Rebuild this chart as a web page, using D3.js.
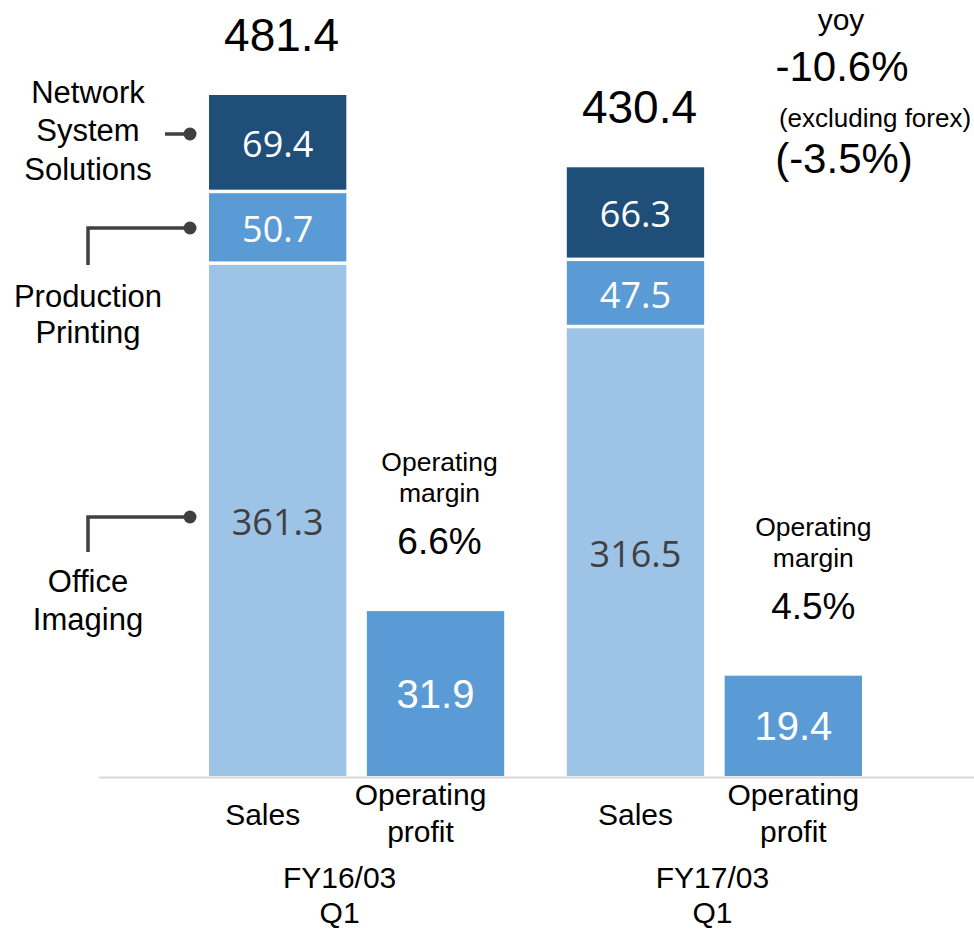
<!DOCTYPE html>
<html>
<head>
<meta charset="utf-8">
<script src="https://cdn.jsdelivr.net/npm/d3@7"></script>
<style>
  html, body { margin: 0; padding: 0; background: #fff; }
  svg { display: block; font-family: "Liberation Sans", Arial, sans-serif; }
</style>
</head>
<body>
<svg id="chart" width="974" height="931"></svg>
<script>
// values (billion yen)
const periods = ["FY16/03 Q1", "FY17/03 Q1"];
const periodLines = [["FY16/03", "Q1"], ["FY17/03", "Q1"]];
const barKinds = ["Sales", "Operating profit"];
const barKindLines = [["Sales"], ["Operating", "profit"]];

const segments = ["Office Imaging", "Production Printing", "Network System Solutions"];
const officeImaging = [361.3, 316.5];
const productionPrinting = [50.7, 47.5];
const networkSystemSolutions = [69.4, 66.3];
const salesTotal = [481.4, 430.4];
const operatingProfit = [31.9, 19.4];
const operatingMargin = ["6.6%", "4.5%"];
const yoyNotes = ["yoy", "-10.6%", "(excluding forex)", "(-3.5%)"];

const segColors = ["#9DC3E6", "#5B9BD5", "#1F4E79"];
const segText = ["#404040", "#ffffff", "#ffffff"];
const opColor = "#5B9BD5";

const width = 974, height = 931;
const baseY = 776;

const svg = d3.select("#chart");

const x0 = d3.scaleBand()
  .domain(periods)
  .range([209, 862])
  .paddingInner(0.175);

const x1 = d3.scaleBand()
  .domain(barKinds)
  .range([0, x0.bandwidth()])
  .paddingInner(0.13);

const ySales = d3.scaleLinear().domain([0, 500]).range([baseY, baseY - 707.3]);
const yOp = d3.scaleLinear().domain([0, 40]).range([baseY, baseY - 206.8]);

// stacked sales bars
const salesRows = periods.map((p, i) => ({
  period: p,
  [segments[0]]: officeImaging[i],
  [segments[1]]: productionPrinting[i],
  [segments[2]]: networkSystemSolutions[i]
}));
const stack = d3.stack().keys(segments)(salesRows);

const gap = 3.5;
stack.forEach((layer, li) => {
  const g = svg.append("g").attr("class", "seg-" + li);
  g.selectAll("rect")
    .data(layer)
    .join("rect")
    .attr("x", d => x0(d.data.period) + x1("Sales"))
    .attr("y", d => ySales(d[1]))
    .attr("width", x1.bandwidth())
    .attr("height", d => ySales(d[0]) - ySales(d[1]) - (li > 0 ? gap : 0))
    .attr("fill", segColors[li]);

  g.selectAll("text")
    .data(layer)
    .join("text")
    .attr("x", d => x0(d.data.period) + x1("Sales") + x1.bandwidth() / 2)
    .attr("y", d => (ySales(d[0]) - (li > 0 ? gap : 0) + ySales(d[1])) / 2 + 2)
    .attr("dy", "0.36em")
    .attr("text-anchor", "middle")
    .attr("fill", segText[li])
    .style("font-family", "'Open Sans', sans-serif")
    .style("font-size", "36px")
    .text(d => (d[1] - d[0]).toFixed(1));
});

// sales totals
svg.append("g").selectAll("text")
  .data(salesTotal)
  .join("text")
  .attr("x", (d, i) => x0(periods[i]) + x1("Sales") + x1.bandwidth() / 2 + 4)
  .attr("y", d => ySales(d) - 44)
  .attr("text-anchor", "middle")
  .style("font-size", "46px")
  .text(d => d.toFixed(1));

// operating profit bars
const opG = svg.append("g");
opG.selectAll("rect")
  .data(operatingProfit)
  .join("rect")
  .attr("x", (d, i) => x0(periods[i]) + x1("Operating profit"))
  .attr("y", d => yOp(d))
  .attr("width", x1.bandwidth())
  .attr("height", d => baseY - yOp(d))
  .attr("fill", opColor);

opG.selectAll("text")
  .data(operatingProfit)
  .join("text")
  .attr("x", (d, i) => x0(periods[i]) + x1("Operating profit") + x1.bandwidth() / 2)
  .attr("y", d => (yOp(d) + baseY) / 2)
  .attr("dy", "0.36em")
  .attr("text-anchor", "middle")
  .attr("fill", "#fff")
  .style("font-size", "40px")
  .text(d => d.toFixed(1));

// operating margin notes above op bars
const marginDx = [4, 20];
operatingMargin.forEach((m, i) => {
  const cx = x0(periods[i]) + x1("Operating profit") + x1.bandwidth() / 2 + marginDx[i];
  const top = yOp(operatingProfit[i]);
  const t = svg.append("text")
    .attr("text-anchor", "middle")
    .style("font-size", "26.5px");
  t.append("tspan").attr("x", cx).attr("y", top - 140).text("Operating");
  t.append("tspan").attr("x", cx).attr("y", top - 109).text("margin");
  svg.append("text")
    .attr("x", cx)
    .attr("y", top - 57)
    .attr("text-anchor", "middle")
    .style("font-size", "37px")
    .text(m);
});

// baseline
svg.append("line")
  .attr("x1", 99).attr("x2", width)
  .attr("y1", baseY + 1.5).attr("y2", baseY + 1.5)
  .attr("stroke", "#D9D9D9")
  .attr("stroke-width", 2);

// category labels
const labelDx = [-15, 0];
periods.forEach((p, i) => {
  barKinds.forEach((k, j) => {
    const cx = x0(p) + x1(k) + x1.bandwidth() / 2 + labelDx[i];
    const lines = barKindLines[j];
    const t = svg.append("text").attr("text-anchor", "middle").style("font-size", "30px");
    if (lines.length === 1) {
      t.append("tspan").attr("x", cx).attr("y", 825).text(lines[0]);
    } else {
      t.append("tspan").attr("x", cx).attr("y", 805).text(lines[0]);
      t.append("tspan").attr("x", cx).attr("y", 842).text(lines[1]);
    }
  });
  const gx = x0(p) + x0.bandwidth() / 2 + labelDx[i] - 2;
  const t = svg.append("text").attr("text-anchor", "middle").style("font-size", "30px");
  t.append("tspan").attr("x", gx).attr("y", 888).text(periodLines[i][0]);
  t.append("tspan").attr("x", gx).attr("y", 923).text(periodLines[i][1]);
});

// yoy note
const yoyG = svg.append("g").attr("text-anchor", "middle");
yoyG.append("text").attr("x", 841).attr("y", 30).style("font-size", "30px").text(yoyNotes[0]);
yoyG.append("text").attr("x", 842).attr("y", 81).style("font-size", "42px").text(yoyNotes[1]);
yoyG.append("text").attr("x", 875).attr("y", 127).style("font-size", "26px").text(yoyNotes[2]);
yoyG.append("text").attr("x", 844).attr("y", 173).style("font-size", "42px").text(yoyNotes[3]);

// segment legend with connectors
const legend = [
  { lines: ["Network", "System", "Solutions"], ys: [103, 141, 180], path: "M165,134H190", dot: [190, 134] },
  { lines: ["Production", "Printing"], ys: [307, 343], path: "M88,265V228H190", dot: [190, 228] },
  { lines: ["Office", "Imaging"], ys: [592, 630], path: "M88,552V517H190", dot: [190, 517] }
];
const legG = svg.append("g");
legend.forEach(l => {
  const t = legG.append("text").attr("text-anchor", "middle").style("font-size", "31px");
  l.lines.forEach((s, k) => t.append("tspan").attr("x", 88).attr("y", l.ys[k]).text(s));
  legG.append("path")
    .attr("d", l.path)
    .attr("fill", "none")
    .attr("stroke", "#404040")
    .attr("stroke-width", 3.5);
  legG.append("circle")
    .attr("cx", l.dot[0]).attr("cy", l.dot[1]).attr("r", 6.5)
    .attr("fill", "#404040");
});
</script>
</body>
</html>
